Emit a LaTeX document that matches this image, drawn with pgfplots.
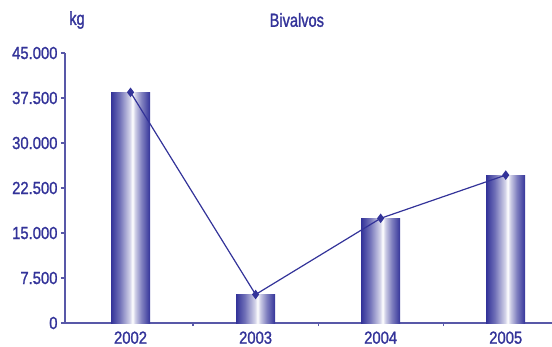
\documentclass[border=0pt]{standalone}
\usepackage{fontspec}
\setmainfont{Liberation Sans}[FakeStretch=0.85, FakeBold=1.3]
\newfontfamily\titlefont{Liberation Sans}[FakeStretch=0.77, FakeBold=1.3]
\usepackage{pgfplots}
\pgfplotsset{compat=1.18}

\definecolor{navy}{HTML}{333399}
\definecolor{axiscol}{HTML}{5858A8}

% cylinder-like bar fill: dark edges, white streak a bit right of centre
\pgfdeclarehorizontalshading{cyl}{100bp}{%
  color(0bp)=(navy); color(25bp)=(navy);
  color(36bp)=(navy!70!white); color(49bp)=(navy!22!white);
  color(52.5bp)=(white); color(56bp)=(navy!25!white);
  color(64bp)=(navy!62!white); color(75bp)=(navy); color(100bp)=(navy)}

\pgfplotsset{cylbar/.style={ybar, bar width=39bp, bar shift=0pt, draw=none, shading=cyl}}

\begin{document}
\begin{tikzpicture}
\path[use as bounding box] (-65bp,-24bp) rectangle (487bp,323bp);
\begin{axis}[
    at={(0,0)}, anchor=south west,
    scale only axis,
    width=487bp, height=270bp,
    xmin=-0.524, xmax=3.37,
    ymin=0, ymax=45000,
    axis x line=bottom, axis y line=left,
    axis line style={-, axiscol, line width=1.2bp},
    xtick={0,1,2,3},
    xticklabels={2002,2003,2004,2005},
    major x tick style={draw=none},
    minor xtick={0.5,1.5,2.5},
    minor tick length=3bp,
    ytick={0,7500,...,45000},
    major tick length=4bp,
    tick align=outside,
    tick style={axiscol, line width=1.2bp},
    scaled y ticks=false,
    yticklabel style={/pgf/number format/.cd, fixed, precision=0, 1000 sep={.}},
    /pgf/number format/assume math mode=true,
    ticklabel style={font=\fontsize{17.5}{17.5}\selectfont, text=navy},
    xticklabel style={yshift=-1bp},
    clip=false,
]

% one plot per bar so every bar gets its own shading
\addplot[cylbar] coordinates {(0,38450)};
\addplot[cylbar] coordinates {(1,4750)};
\addplot[cylbar] coordinates {(2,17450)};
\addplot[cylbar] coordinates {(3,24650)};

\addplot[navy, line width=1.2bp, mark=diamond*, mark size=3.8bp,
    mark options={fill=navy, draw=navy}]
    coordinates {(0,38450) (1,4750) (2,17450) (3,24650)};

\node[text=navy, font=\titlefont\fontsize{19}{19}\selectfont] at (rel axis cs:0,1) [xshift=12bp, yshift=33bp] {kg};
\node[text=navy, font=\titlefont\fontsize{19}{19}\selectfont] at (rel axis cs:0.476,1) [yshift=33bp] {Bivalvos};
\end{axis}
\end{tikzpicture}
\end{document}
